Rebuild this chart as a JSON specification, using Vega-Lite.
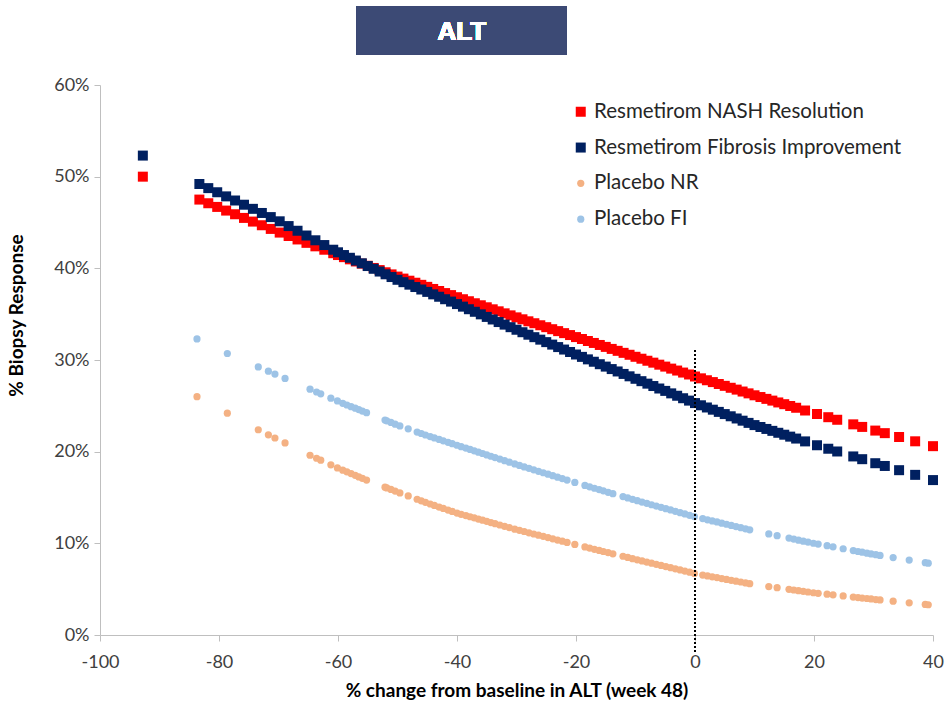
{
  "$schema": "https://vega.github.io/schema/vega-lite/v6.json",
  "width": 833,
  "height": 550,
  "autosize": {"type": "none"},
  "padding": {"left": 100, "top": 85, "right": 13, "bottom": 71},
  "background": "white",
  "config": {
    "view": {"stroke": null},
    "font": "Lato"
  },
  "data": {"values": [
    {"s":"Resmetirom NASH Resolution","x":-92.8,"y":50.0},
    {"s":"Resmetirom NASH Resolution","x":-83.3,"y":47.5},
    {"s":"Resmetirom NASH Resolution","x":-81.8,"y":47.10},
    {"s":"Resmetirom NASH Resolution","x":-80.3,"y":46.70},
    {"s":"Resmetirom NASH Resolution","x":-78.8,"y":46.30},
    {"s":"Resmetirom NASH Resolution","x":-77.3,"y":45.90},
    {"s":"Resmetirom NASH Resolution","x":-75.8,"y":45.50},
    {"s":"Resmetirom NASH Resolution","x":-74.3,"y":45.10},
    {"s":"Resmetirom NASH Resolution","x":-72.8,"y":44.70},
    {"s":"Resmetirom NASH Resolution","x":-71.3,"y":44.30},
    {"s":"Resmetirom NASH Resolution","x":-69.8,"y":43.90},
    {"s":"Resmetirom NASH Resolution","x":-68.3,"y":43.53},
    {"s":"Resmetirom NASH Resolution","x":-66.8,"y":43.15},
    {"s":"Resmetirom NASH Resolution","x":-65.3,"y":42.78},
    {"s":"Resmetirom NASH Resolution","x":-63.8,"y":42.40},
    {"s":"Resmetirom NASH Resolution","x":-62.3,"y":42.03},
    {"s":"Resmetirom NASH Resolution","x":-60.8,"y":41.65},
    {"s":"Resmetirom NASH Resolution","x":-60,"y":41.45},
    {"s":"Resmetirom NASH Resolution","x":-59,"y":41.22},
    {"s":"Resmetirom NASH Resolution","x":-58,"y":40.98},
    {"s":"Resmetirom NASH Resolution","x":-57,"y":40.75},
    {"s":"Resmetirom NASH Resolution","x":-56,"y":40.51},
    {"s":"Resmetirom NASH Resolution","x":-55,"y":40.28},
    {"s":"Resmetirom NASH Resolution","x":-54,"y":40.04},
    {"s":"Resmetirom NASH Resolution","x":-53,"y":39.81},
    {"s":"Resmetirom NASH Resolution","x":-52,"y":39.57},
    {"s":"Resmetirom NASH Resolution","x":-51,"y":39.34},
    {"s":"Resmetirom NASH Resolution","x":-50,"y":39.10},
    {"s":"Resmetirom NASH Resolution","x":-49,"y":38.88},
    {"s":"Resmetirom NASH Resolution","x":-48,"y":38.65},
    {"s":"Resmetirom NASH Resolution","x":-47,"y":38.43},
    {"s":"Resmetirom NASH Resolution","x":-46,"y":38.20},
    {"s":"Resmetirom NASH Resolution","x":-45,"y":37.98},
    {"s":"Resmetirom NASH Resolution","x":-44,"y":37.75},
    {"s":"Resmetirom NASH Resolution","x":-43,"y":37.53},
    {"s":"Resmetirom NASH Resolution","x":-42,"y":37.30},
    {"s":"Resmetirom NASH Resolution","x":-41,"y":37.08},
    {"s":"Resmetirom NASH Resolution","x":-40,"y":36.85},
    {"s":"Resmetirom NASH Resolution","x":-39,"y":36.63},
    {"s":"Resmetirom NASH Resolution","x":-38,"y":36.41},
    {"s":"Resmetirom NASH Resolution","x":-37,"y":36.19},
    {"s":"Resmetirom NASH Resolution","x":-36,"y":35.97},
    {"s":"Resmetirom NASH Resolution","x":-35,"y":35.75},
    {"s":"Resmetirom NASH Resolution","x":-34,"y":35.53},
    {"s":"Resmetirom NASH Resolution","x":-33,"y":35.31},
    {"s":"Resmetirom NASH Resolution","x":-32,"y":35.09},
    {"s":"Resmetirom NASH Resolution","x":-31,"y":34.87},
    {"s":"Resmetirom NASH Resolution","x":-30,"y":34.65},
    {"s":"Resmetirom NASH Resolution","x":-29,"y":34.44},
    {"s":"Resmetirom NASH Resolution","x":-28,"y":34.22},
    {"s":"Resmetirom NASH Resolution","x":-27,"y":34.01},
    {"s":"Resmetirom NASH Resolution","x":-26,"y":33.79},
    {"s":"Resmetirom NASH Resolution","x":-25,"y":33.58},
    {"s":"Resmetirom NASH Resolution","x":-24,"y":33.36},
    {"s":"Resmetirom NASH Resolution","x":-23,"y":33.15},
    {"s":"Resmetirom NASH Resolution","x":-22,"y":32.93},
    {"s":"Resmetirom NASH Resolution","x":-21,"y":32.72},
    {"s":"Resmetirom NASH Resolution","x":-20,"y":32.50},
    {"s":"Resmetirom NASH Resolution","x":-19,"y":32.29},
    {"s":"Resmetirom NASH Resolution","x":-18,"y":32.07},
    {"s":"Resmetirom NASH Resolution","x":-17,"y":31.86},
    {"s":"Resmetirom NASH Resolution","x":-16,"y":31.64},
    {"s":"Resmetirom NASH Resolution","x":-15,"y":31.43},
    {"s":"Resmetirom NASH Resolution","x":-14,"y":31.21},
    {"s":"Resmetirom NASH Resolution","x":-13,"y":31.00},
    {"s":"Resmetirom NASH Resolution","x":-12,"y":30.78},
    {"s":"Resmetirom NASH Resolution","x":-11,"y":30.57},
    {"s":"Resmetirom NASH Resolution","x":-10,"y":30.35},
    {"s":"Resmetirom NASH Resolution","x":-9,"y":30.14},
    {"s":"Resmetirom NASH Resolution","x":-8,"y":29.92},
    {"s":"Resmetirom NASH Resolution","x":-7,"y":29.71},
    {"s":"Resmetirom NASH Resolution","x":-6,"y":29.49},
    {"s":"Resmetirom NASH Resolution","x":-5,"y":29.28},
    {"s":"Resmetirom NASH Resolution","x":-4,"y":29.06},
    {"s":"Resmetirom NASH Resolution","x":-3,"y":28.85},
    {"s":"Resmetirom NASH Resolution","x":-2,"y":28.63},
    {"s":"Resmetirom NASH Resolution","x":-1,"y":28.42},
    {"s":"Resmetirom NASH Resolution","x":0,"y":28.20},
    {"s":"Resmetirom NASH Resolution","x":1,"y":28.00},
    {"s":"Resmetirom NASH Resolution","x":2,"y":27.79},
    {"s":"Resmetirom NASH Resolution","x":3,"y":27.59},
    {"s":"Resmetirom NASH Resolution","x":4,"y":27.38},
    {"s":"Resmetirom NASH Resolution","x":5,"y":27.18},
    {"s":"Resmetirom NASH Resolution","x":6,"y":26.97},
    {"s":"Resmetirom NASH Resolution","x":7,"y":26.77},
    {"s":"Resmetirom NASH Resolution","x":8,"y":26.56},
    {"s":"Resmetirom NASH Resolution","x":9,"y":26.36},
    {"s":"Resmetirom NASH Resolution","x":10,"y":26.15},
    {"s":"Resmetirom NASH Resolution","x":11,"y":25.96},
    {"s":"Resmetirom NASH Resolution","x":12,"y":25.76},
    {"s":"Resmetirom NASH Resolution","x":13,"y":25.57},
    {"s":"Resmetirom NASH Resolution","x":14,"y":25.37},
    {"s":"Resmetirom NASH Resolution","x":15,"y":25.18},
    {"s":"Resmetirom NASH Resolution","x":16,"y":24.98},
    {"s":"Resmetirom NASH Resolution","x":17,"y":24.79},
    {"s":"Resmetirom NASH Resolution","x":18.5,"y":24.49},
    {"s":"Resmetirom NASH Resolution","x":20.5,"y":24.11},
    {"s":"Resmetirom NASH Resolution","x":22.4,"y":23.76},
    {"s":"Resmetirom NASH Resolution","x":23.9,"y":23.48},
    {"s":"Resmetirom NASH Resolution","x":26.6,"y":22.98},
    {"s":"Resmetirom NASH Resolution","x":28.1,"y":22.70},
    {"s":"Resmetirom NASH Resolution","x":30.3,"y":22.30},
    {"s":"Resmetirom NASH Resolution","x":31.9,"y":22.02},
    {"s":"Resmetirom NASH Resolution","x":34.3,"y":21.60},
    {"s":"Resmetirom NASH Resolution","x":37.0,"y":21.13},
    {"s":"Resmetirom NASH Resolution","x":40.0,"y":20.60},

    {"s":"Resmetirom Fibrosis Improvement","x":-92.8,"y":52.3},
    {"s":"Resmetirom Fibrosis Improvement","x":-83.3,"y":49.2},
    {"s":"Resmetirom Fibrosis Improvement","x":-81.8,"y":48.75},
    {"s":"Resmetirom Fibrosis Improvement","x":-80.3,"y":48.30},
    {"s":"Resmetirom Fibrosis Improvement","x":-78.8,"y":47.85},
    {"s":"Resmetirom Fibrosis Improvement","x":-77.3,"y":47.40},
    {"s":"Resmetirom Fibrosis Improvement","x":-75.8,"y":46.94},
    {"s":"Resmetirom Fibrosis Improvement","x":-74.3,"y":46.49},
    {"s":"Resmetirom Fibrosis Improvement","x":-72.8,"y":46.04},
    {"s":"Resmetirom Fibrosis Improvement","x":-71.3,"y":45.59},
    {"s":"Resmetirom Fibrosis Improvement","x":-69.8,"y":45.13},
    {"s":"Resmetirom Fibrosis Improvement","x":-68.3,"y":44.61},
    {"s":"Resmetirom Fibrosis Improvement","x":-66.8,"y":44.10},
    {"s":"Resmetirom Fibrosis Improvement","x":-65.3,"y":43.58},
    {"s":"Resmetirom Fibrosis Improvement","x":-63.8,"y":43.06},
    {"s":"Resmetirom Fibrosis Improvement","x":-62.3,"y":42.54},
    {"s":"Resmetirom Fibrosis Improvement","x":-60.8,"y":42.03},
    {"s":"Resmetirom Fibrosis Improvement","x":-60,"y":41.75},
    {"s":"Resmetirom Fibrosis Improvement","x":-59,"y":41.45},
    {"s":"Resmetirom Fibrosis Improvement","x":-58,"y":41.15},
    {"s":"Resmetirom Fibrosis Improvement","x":-57,"y":40.85},
    {"s":"Resmetirom Fibrosis Improvement","x":-56,"y":40.55},
    {"s":"Resmetirom Fibrosis Improvement","x":-55,"y":40.25},
    {"s":"Resmetirom Fibrosis Improvement","x":-54,"y":39.95},
    {"s":"Resmetirom Fibrosis Improvement","x":-53,"y":39.65},
    {"s":"Resmetirom Fibrosis Improvement","x":-52,"y":39.35},
    {"s":"Resmetirom Fibrosis Improvement","x":-51,"y":39.05},
    {"s":"Resmetirom Fibrosis Improvement","x":-50,"y":38.75},
    {"s":"Resmetirom Fibrosis Improvement","x":-49,"y":38.49},
    {"s":"Resmetirom Fibrosis Improvement","x":-48,"y":38.22},
    {"s":"Resmetirom Fibrosis Improvement","x":-47,"y":37.96},
    {"s":"Resmetirom Fibrosis Improvement","x":-46,"y":37.69},
    {"s":"Resmetirom Fibrosis Improvement","x":-45,"y":37.43},
    {"s":"Resmetirom Fibrosis Improvement","x":-44,"y":37.16},
    {"s":"Resmetirom Fibrosis Improvement","x":-43,"y":36.90},
    {"s":"Resmetirom Fibrosis Improvement","x":-42,"y":36.63},
    {"s":"Resmetirom Fibrosis Improvement","x":-41,"y":36.37},
    {"s":"Resmetirom Fibrosis Improvement","x":-40,"y":36.10},
    {"s":"Resmetirom Fibrosis Improvement","x":-39,"y":35.82},
    {"s":"Resmetirom Fibrosis Improvement","x":-38,"y":35.54},
    {"s":"Resmetirom Fibrosis Improvement","x":-37,"y":35.26},
    {"s":"Resmetirom Fibrosis Improvement","x":-36,"y":34.98},
    {"s":"Resmetirom Fibrosis Improvement","x":-35,"y":34.70},
    {"s":"Resmetirom Fibrosis Improvement","x":-34,"y":34.42},
    {"s":"Resmetirom Fibrosis Improvement","x":-33,"y":34.14},
    {"s":"Resmetirom Fibrosis Improvement","x":-32,"y":33.86},
    {"s":"Resmetirom Fibrosis Improvement","x":-31,"y":33.58},
    {"s":"Resmetirom Fibrosis Improvement","x":-30,"y":33.30},
    {"s":"Resmetirom Fibrosis Improvement","x":-29,"y":33.03},
    {"s":"Resmetirom Fibrosis Improvement","x":-28,"y":32.76},
    {"s":"Resmetirom Fibrosis Improvement","x":-27,"y":32.49},
    {"s":"Resmetirom Fibrosis Improvement","x":-26,"y":32.22},
    {"s":"Resmetirom Fibrosis Improvement","x":-25,"y":31.95},
    {"s":"Resmetirom Fibrosis Improvement","x":-24,"y":31.68},
    {"s":"Resmetirom Fibrosis Improvement","x":-23,"y":31.41},
    {"s":"Resmetirom Fibrosis Improvement","x":-22,"y":31.14},
    {"s":"Resmetirom Fibrosis Improvement","x":-21,"y":30.87},
    {"s":"Resmetirom Fibrosis Improvement","x":-20,"y":30.60},
    {"s":"Resmetirom Fibrosis Improvement","x":-19,"y":30.34},
    {"s":"Resmetirom Fibrosis Improvement","x":-18,"y":30.07},
    {"s":"Resmetirom Fibrosis Improvement","x":-17,"y":29.81},
    {"s":"Resmetirom Fibrosis Improvement","x":-16,"y":29.54},
    {"s":"Resmetirom Fibrosis Improvement","x":-15,"y":29.28},
    {"s":"Resmetirom Fibrosis Improvement","x":-14,"y":29.01},
    {"s":"Resmetirom Fibrosis Improvement","x":-13,"y":28.75},
    {"s":"Resmetirom Fibrosis Improvement","x":-12,"y":28.48},
    {"s":"Resmetirom Fibrosis Improvement","x":-11,"y":28.22},
    {"s":"Resmetirom Fibrosis Improvement","x":-10,"y":27.95},
    {"s":"Resmetirom Fibrosis Improvement","x":-9,"y":27.69},
    {"s":"Resmetirom Fibrosis Improvement","x":-8,"y":27.42},
    {"s":"Resmetirom Fibrosis Improvement","x":-7,"y":27.16},
    {"s":"Resmetirom Fibrosis Improvement","x":-6,"y":26.89},
    {"s":"Resmetirom Fibrosis Improvement","x":-5,"y":26.63},
    {"s":"Resmetirom Fibrosis Improvement","x":-4,"y":26.36},
    {"s":"Resmetirom Fibrosis Improvement","x":-3,"y":26.10},
    {"s":"Resmetirom Fibrosis Improvement","x":-2,"y":25.83},
    {"s":"Resmetirom Fibrosis Improvement","x":-1,"y":25.57},
    {"s":"Resmetirom Fibrosis Improvement","x":0,"y":25.30},
    {"s":"Resmetirom Fibrosis Improvement","x":1,"y":25.06},
    {"s":"Resmetirom Fibrosis Improvement","x":2,"y":24.82},
    {"s":"Resmetirom Fibrosis Improvement","x":3,"y":24.58},
    {"s":"Resmetirom Fibrosis Improvement","x":4,"y":24.34},
    {"s":"Resmetirom Fibrosis Improvement","x":5,"y":24.10},
    {"s":"Resmetirom Fibrosis Improvement","x":6,"y":23.86},
    {"s":"Resmetirom Fibrosis Improvement","x":7,"y":23.62},
    {"s":"Resmetirom Fibrosis Improvement","x":8,"y":23.38},
    {"s":"Resmetirom Fibrosis Improvement","x":9,"y":23.14},
    {"s":"Resmetirom Fibrosis Improvement","x":10,"y":22.90},
    {"s":"Resmetirom Fibrosis Improvement","x":11,"y":22.69},
    {"s":"Resmetirom Fibrosis Improvement","x":12,"y":22.48},
    {"s":"Resmetirom Fibrosis Improvement","x":13,"y":22.27},
    {"s":"Resmetirom Fibrosis Improvement","x":14,"y":22.06},
    {"s":"Resmetirom Fibrosis Improvement","x":15,"y":21.85},
    {"s":"Resmetirom Fibrosis Improvement","x":16,"y":21.64},
    {"s":"Resmetirom Fibrosis Improvement","x":17,"y":21.43},
    {"s":"Resmetirom Fibrosis Improvement","x":18.5,"y":21.12},
    {"s":"Resmetirom Fibrosis Improvement","x":20.5,"y":20.70},
    {"s":"Resmetirom Fibrosis Improvement","x":22.4,"y":20.32},
    {"s":"Resmetirom Fibrosis Improvement","x":23.9,"y":20.02},
    {"s":"Resmetirom Fibrosis Improvement","x":26.6,"y":19.48},
    {"s":"Resmetirom Fibrosis Improvement","x":28.1,"y":19.18},
    {"s":"Resmetirom Fibrosis Improvement","x":30.3,"y":18.74},
    {"s":"Resmetirom Fibrosis Improvement","x":31.9,"y":18.44},
    {"s":"Resmetirom Fibrosis Improvement","x":34.3,"y":17.98},
    {"s":"Resmetirom Fibrosis Improvement","x":37.0,"y":17.47},
    {"s":"Resmetirom Fibrosis Improvement","x":40.0,"y":16.90},

    {"s":"Placebo NR","x":-83.7,"y":26.00},
    {"s":"Placebo NR","x":-78.6,"y":24.20},
    {"s":"Placebo NR","x":-73.4,"y":22.39},
    {"s":"Placebo NR","x":-71.7,"y":21.84},
    {"s":"Placebo NR","x":-70.6,"y":21.49},
    {"s":"Placebo NR","x":-68.9,"y":20.95},
    {"s":"Placebo NR","x":-64.7,"y":19.61},
    {"s":"Placebo NR","x":-63.6,"y":19.28},
    {"s":"Placebo NR","x":-62.9,"y":19.07},
    {"s":"Placebo NR","x":-61.2,"y":18.56},
    {"s":"Placebo NR","x":-60.1,"y":18.23},
    {"s":"Placebo NR","x":-59.2,"y":17.98},
    {"s":"Placebo NR","x":-58.5,"y":17.80},
    {"s":"Placebo NR","x":-57.8,"y":17.61},
    {"s":"Placebo NR","x":-57.1,"y":17.42},
    {"s":"Placebo NR","x":-56.5,"y":17.25},
    {"s":"Placebo NR","x":-55.9,"y":17.09},
    {"s":"Placebo NR","x":-55.2,"y":16.90},
    {"s":"Placebo NR","x":-52.1,"y":16.13},
    {"s":"Placebo NR","x":-51.8,"y":16.05},
    {"s":"Placebo NR","x":-51.1,"y":15.88},
    {"s":"Placebo NR","x":-50.4,"y":15.70},
    {"s":"Placebo NR","x":-49.6,"y":15.50},
    {"s":"Placebo NR","x":-48.2,"y":15.17},
    {"s":"Placebo NR","x":-46.7,"y":14.81},
    {"s":"Placebo NR","x":-46.0,"y":14.64},
    {"s":"Placebo NR","x":-45.3,"y":14.47},
    {"s":"Placebo NR","x":-44.5,"y":14.29},
    {"s":"Placebo NR","x":-43.8,"y":14.14},
    {"s":"Placebo NR","x":-43.0,"y":13.96},
    {"s":"Placebo NR","x":-42.3,"y":13.81},
    {"s":"Placebo NR","x":-41.5,"y":13.63},
    {"s":"Placebo NR","x":-40.8,"y":13.48},
    {"s":"Placebo NR","x":-40.0,"y":13.30},
    {"s":"Placebo NR","x":-39.3,"y":13.17},
    {"s":"Placebo NR","x":-38.5,"y":13.03},
    {"s":"Placebo NR","x":-37.8,"y":12.90},
    {"s":"Placebo NR","x":-37.1,"y":12.78},
    {"s":"Placebo NR","x":-36.4,"y":12.65},
    {"s":"Placebo NR","x":-35.7,"y":12.53},
    {"s":"Placebo NR","x":-35.0,"y":12.40},
    {"s":"Placebo NR","x":-34.3,"y":12.27},
    {"s":"Placebo NR","x":-33.6,"y":12.15},
    {"s":"Placebo NR","x":-32.8,"y":12.00},
    {"s":"Placebo NR","x":-32.0,"y":11.86},
    {"s":"Placebo NR","x":-31.2,"y":11.72},
    {"s":"Placebo NR","x":-30.3,"y":11.55},
    {"s":"Placebo NR","x":-29.5,"y":11.42},
    {"s":"Placebo NR","x":-28.7,"y":11.29},
    {"s":"Placebo NR","x":-27.9,"y":11.15},
    {"s":"Placebo NR","x":-27.1,"y":11.02},
    {"s":"Placebo NR","x":-26.3,"y":10.89},
    {"s":"Placebo NR","x":-25.5,"y":10.76},
    {"s":"Placebo NR","x":-24.7,"y":10.63},
    {"s":"Placebo NR","x":-23.9,"y":10.49},
    {"s":"Placebo NR","x":-23.1,"y":10.36},
    {"s":"Placebo NR","x":-22.3,"y":10.23},
    {"s":"Placebo NR","x":-21.5,"y":10.10},
    {"s":"Placebo NR","x":-20.2,"y":9.88},
    {"s":"Placebo NR","x":-18.5,"y":9.61},
    {"s":"Placebo NR","x":-17.7,"y":9.48},
    {"s":"Placebo NR","x":-16.9,"y":9.35},
    {"s":"Placebo NR","x":-16.1,"y":9.23},
    {"s":"Placebo NR","x":-15.4,"y":9.11},
    {"s":"Placebo NR","x":-14.6,"y":8.99},
    {"s":"Placebo NR","x":-13.8,"y":8.86},
    {"s":"Placebo NR","x":-12.1,"y":8.59},
    {"s":"Placebo NR","x":-11.3,"y":8.46},
    {"s":"Placebo NR","x":-10.5,"y":8.33},
    {"s":"Placebo NR","x":-9.7,"y":8.20},
    {"s":"Placebo NR","x":-8.9,"y":8.08},
    {"s":"Placebo NR","x":-8.1,"y":7.96},
    {"s":"Placebo NR","x":-7.3,"y":7.83},
    {"s":"Placebo NR","x":-6.5,"y":7.71},
    {"s":"Placebo NR","x":-5.7,"y":7.59},
    {"s":"Placebo NR","x":-4.9,"y":7.47},
    {"s":"Placebo NR","x":-4.1,"y":7.34},
    {"s":"Placebo NR","x":-3.3,"y":7.22},
    {"s":"Placebo NR","x":-2.5,"y":7.10},
    {"s":"Placebo NR","x":-1.7,"y":6.97},
    {"s":"Placebo NR","x":-0.9,"y":6.85},
    {"s":"Placebo NR","x":-0.1,"y":6.72},
    {"s":"Placebo NR","x":1.3,"y":6.54},
    {"s":"Placebo NR","x":2.1,"y":6.45},
    {"s":"Placebo NR","x":2.9,"y":6.35},
    {"s":"Placebo NR","x":3.7,"y":6.26},
    {"s":"Placebo NR","x":4.5,"y":6.16},
    {"s":"Placebo NR","x":5.3,"y":6.06},
    {"s":"Placebo NR","x":6.1,"y":5.97},
    {"s":"Placebo NR","x":6.9,"y":5.87},
    {"s":"Placebo NR","x":7.7,"y":5.78},
    {"s":"Placebo NR","x":8.5,"y":5.68},
    {"s":"Placebo NR","x":9.2,"y":5.60},
    {"s":"Placebo NR","x":12.4,"y":5.28},
    {"s":"Placebo NR","x":13.8,"y":5.16},
    {"s":"Placebo NR","x":15.8,"y":4.98},
    {"s":"Placebo NR","x":16.6,"y":4.91},
    {"s":"Placebo NR","x":17.4,"y":4.83},
    {"s":"Placebo NR","x":18.2,"y":4.76},
    {"s":"Placebo NR","x":19.0,"y":4.69},
    {"s":"Placebo NR","x":19.9,"y":4.61},
    {"s":"Placebo NR","x":20.7,"y":4.55},
    {"s":"Placebo NR","x":22.2,"y":4.45},
    {"s":"Placebo NR","x":23.2,"y":4.38},
    {"s":"Placebo NR","x":24.9,"y":4.26},
    {"s":"Placebo NR","x":26.6,"y":4.14},
    {"s":"Placebo NR","x":27.4,"y":4.08},
    {"s":"Placebo NR","x":28.1,"y":4.03},
    {"s":"Placebo NR","x":28.9,"y":3.98},
    {"s":"Placebo NR","x":29.6,"y":3.93},
    {"s":"Placebo NR","x":30.4,"y":3.87},
    {"s":"Placebo NR","x":31.1,"y":3.83},
    {"s":"Placebo NR","x":33.3,"y":3.69},
    {"s":"Placebo NR","x":36.0,"y":3.51},
    {"s":"Placebo NR","x":38.7,"y":3.34},
    {"s":"Placebo NR","x":39.2,"y":3.30},

    {"s":"Placebo FI","x":-83.7,"y":32.30},
    {"s":"Placebo FI","x":-78.6,"y":30.71},
    {"s":"Placebo FI","x":-73.4,"y":29.25},
    {"s":"Placebo FI","x":-71.7,"y":28.78},
    {"s":"Placebo FI","x":-70.6,"y":28.47},
    {"s":"Placebo FI","x":-68.9,"y":27.99},
    {"s":"Placebo FI","x":-64.7,"y":26.82},
    {"s":"Placebo FI","x":-63.6,"y":26.51},
    {"s":"Placebo FI","x":-62.9,"y":26.31},
    {"s":"Placebo FI","x":-61.2,"y":25.84},
    {"s":"Placebo FI","x":-60.1,"y":25.53},
    {"s":"Placebo FI","x":-59.2,"y":25.27},
    {"s":"Placebo FI","x":-58.5,"y":25.09},
    {"s":"Placebo FI","x":-57.8,"y":24.91},
    {"s":"Placebo FI","x":-57.1,"y":24.75},
    {"s":"Placebo FI","x":-56.5,"y":24.59},
    {"s":"Placebo FI","x":-55.9,"y":24.43},
    {"s":"Placebo FI","x":-55.2,"y":24.25},
    {"s":"Placebo FI","x":-52.1,"y":23.45},
    {"s":"Placebo FI","x":-51.8,"y":23.37},
    {"s":"Placebo FI","x":-51.1,"y":23.19},
    {"s":"Placebo FI","x":-50.4,"y":23.00},
    {"s":"Placebo FI","x":-49.6,"y":22.81},
    {"s":"Placebo FI","x":-48.2,"y":22.49},
    {"s":"Placebo FI","x":-46.7,"y":22.14},
    {"s":"Placebo FI","x":-46.0,"y":21.98},
    {"s":"Placebo FI","x":-45.3,"y":21.82},
    {"s":"Placebo FI","x":-44.5,"y":21.65},
    {"s":"Placebo FI","x":-43.8,"y":21.50},
    {"s":"Placebo FI","x":-43.0,"y":21.33},
    {"s":"Placebo FI","x":-42.3,"y":21.18},
    {"s":"Placebo FI","x":-41.5,"y":21.02},
    {"s":"Placebo FI","x":-40.8,"y":20.87},
    {"s":"Placebo FI","x":-40.0,"y":20.70},
    {"s":"Placebo FI","x":-39.3,"y":20.55},
    {"s":"Placebo FI","x":-38.5,"y":20.39},
    {"s":"Placebo FI","x":-37.8,"y":20.24},
    {"s":"Placebo FI","x":-37.1,"y":20.09},
    {"s":"Placebo FI","x":-36.4,"y":19.94},
    {"s":"Placebo FI","x":-35.7,"y":19.80},
    {"s":"Placebo FI","x":-35.0,"y":19.65},
    {"s":"Placebo FI","x":-34.3,"y":19.50},
    {"s":"Placebo FI","x":-33.6,"y":19.36},
    {"s":"Placebo FI","x":-32.8,"y":19.19},
    {"s":"Placebo FI","x":-32.0,"y":19.02},
    {"s":"Placebo FI","x":-31.2,"y":18.85},
    {"s":"Placebo FI","x":-30.3,"y":18.66},
    {"s":"Placebo FI","x":-29.5,"y":18.50},
    {"s":"Placebo FI","x":-28.7,"y":18.34},
    {"s":"Placebo FI","x":-27.9,"y":18.18},
    {"s":"Placebo FI","x":-27.1,"y":18.02},
    {"s":"Placebo FI","x":-26.3,"y":17.86},
    {"s":"Placebo FI","x":-25.5,"y":17.70},
    {"s":"Placebo FI","x":-24.7,"y":17.54},
    {"s":"Placebo FI","x":-23.9,"y":17.38},
    {"s":"Placebo FI","x":-23.1,"y":17.22},
    {"s":"Placebo FI","x":-22.3,"y":17.06},
    {"s":"Placebo FI","x":-21.5,"y":16.90},
    {"s":"Placebo FI","x":-20.2,"y":16.64},
    {"s":"Placebo FI","x":-18.5,"y":16.32},
    {"s":"Placebo FI","x":-17.7,"y":16.16},
    {"s":"Placebo FI","x":-16.9,"y":16.01},
    {"s":"Placebo FI","x":-16.1,"y":15.86},
    {"s":"Placebo FI","x":-15.4,"y":15.73},
    {"s":"Placebo FI","x":-14.6,"y":15.57},
    {"s":"Placebo FI","x":-13.8,"y":15.42},
    {"s":"Placebo FI","x":-12.1,"y":15.10},
    {"s":"Placebo FI","x":-11.3,"y":14.95},
    {"s":"Placebo FI","x":-10.5,"y":14.80},
    {"s":"Placebo FI","x":-9.7,"y":14.65},
    {"s":"Placebo FI","x":-8.9,"y":14.50},
    {"s":"Placebo FI","x":-8.1,"y":14.36},
    {"s":"Placebo FI","x":-7.3,"y":14.21},
    {"s":"Placebo FI","x":-6.5,"y":14.07},
    {"s":"Placebo FI","x":-5.7,"y":13.93},
    {"s":"Placebo FI","x":-4.9,"y":13.78},
    {"s":"Placebo FI","x":-4.1,"y":13.64},
    {"s":"Placebo FI","x":-3.3,"y":13.49},
    {"s":"Placebo FI","x":-2.5,"y":13.35},
    {"s":"Placebo FI","x":-1.7,"y":13.21},
    {"s":"Placebo FI","x":-0.9,"y":13.06},
    {"s":"Placebo FI","x":-0.1,"y":12.92},
    {"s":"Placebo FI","x":1.3,"y":12.70},
    {"s":"Placebo FI","x":2.1,"y":12.57},
    {"s":"Placebo FI","x":2.9,"y":12.45},
    {"s":"Placebo FI","x":3.7,"y":12.33},
    {"s":"Placebo FI","x":4.5,"y":12.20},
    {"s":"Placebo FI","x":5.3,"y":12.08},
    {"s":"Placebo FI","x":6.1,"y":11.95},
    {"s":"Placebo FI","x":6.9,"y":11.83},
    {"s":"Placebo FI","x":7.7,"y":11.71},
    {"s":"Placebo FI","x":8.5,"y":11.58},
    {"s":"Placebo FI","x":9.2,"y":11.47},
    {"s":"Placebo FI","x":12.4,"y":11.03},
    {"s":"Placebo FI","x":13.8,"y":10.84},
    {"s":"Placebo FI","x":15.8,"y":10.57},
    {"s":"Placebo FI","x":16.6,"y":10.46},
    {"s":"Placebo FI","x":17.4,"y":10.35},
    {"s":"Placebo FI","x":18.2,"y":10.24},
    {"s":"Placebo FI","x":19.0,"y":10.14},
    {"s":"Placebo FI","x":19.9,"y":10.01},
    {"s":"Placebo FI","x":20.7,"y":9.92},
    {"s":"Placebo FI","x":22.2,"y":9.74},
    {"s":"Placebo FI","x":23.2,"y":9.62},
    {"s":"Placebo FI","x":24.9,"y":9.41},
    {"s":"Placebo FI","x":26.6,"y":9.21},
    {"s":"Placebo FI","x":27.4,"y":9.11},
    {"s":"Placebo FI","x":28.1,"y":9.03},
    {"s":"Placebo FI","x":28.9,"y":8.93},
    {"s":"Placebo FI","x":29.6,"y":8.85},
    {"s":"Placebo FI","x":30.4,"y":8.76},
    {"s":"Placebo FI","x":31.1,"y":8.68},
    {"s":"Placebo FI","x":33.3,"y":8.45},
    {"s":"Placebo FI","x":36.0,"y":8.17},
    {"s":"Placebo FI","x":38.7,"y":7.89},
    {"s":"Placebo FI","x":39.2,"y":7.83}
  ]},
  "layer": [
    {
      "mark": {"type": "point", "filled": true, "opacity": 1, "strokeWidth": 0},
      "encoding": {
        "x": {
          "field": "x", "type": "quantitative",
          "scale": {"domain": [-100, 40], "nice": false, "zero": false},
          "axis": {
            "values": [-100, -80, -60, -40, -20, 0, 20, 40],
            "labelExpr": "'' + datum.value",
            "labelFlush": false,
            "title": "% change from baseline in ALT (week 48)",
            "titleFont": "Lato", "titleFontSize": 19, "titleFontWeight": "bold", "titleColor": "#000000",
            "titlePadding": 10,
            "labelFont": "Lato", "labelFontSize": 18, "labelColor": "#404040", "labelPadding": 12,
            "tickSize": 6, "tickColor": "#BFBFBF", "domainColor": "#BFBFBF", "grid": false
          }
        },
        "y": {
          "field": "y", "type": "quantitative",
          "scale": {"domain": [0, 60], "nice": false},
          "axis": {
            "values": [0, 10, 20, 30, 40, 50, 60],
            "labelExpr": "datum.value + '%'",
            "labelFlush": false,
            "title": "% Biopsy Response",
            "titleFont": "Lato", "titleFontSize": 19, "titleFontWeight": "bold", "titleColor": "#000000",
            "titleX": -74, "titleY": 230,
            "labelFont": "Lato", "labelFontSize": 18, "labelColor": "#404040", "labelPadding": 5,
            "tickSize": 6, "tickColor": "#BFBFBF", "domainColor": "#BFBFBF", "grid": false
          }
        },
        "color": {
          "field": "s", "type": "nominal",
          "scale": {
            "domain": ["Resmetirom NASH Resolution", "Resmetirom Fibrosis Improvement", "Placebo NR", "Placebo FI"],
            "range": ["#FF0000", "#002060", "#F4B183", "#9DC3E6"]
          },
          "legend": {
            "title": null, "orient": "none", "legendX": 470.5, "legendY": 16.5,
            "labelFont": "Lato", "labelFontSize": 20.5, "labelColor": "#262626", "labelLimit": 0,
            "labelOffset": 3, "rowPadding": 14.8, "padding": 0, "symbolStrokeWidth": 0
          }
        },
        "shape": {
          "field": "s", "type": "nominal",
          "scale": {
            "domain": ["Resmetirom NASH Resolution", "Resmetirom Fibrosis Improvement", "Placebo NR", "Placebo FI"],
            "range": ["square", "square", "circle", "circle"]
          }
        },
        "size": {
          "field": "s", "type": "nominal",
          "scale": {
            "type": "ordinal",
            "domain": ["Resmetirom NASH Resolution", "Resmetirom Fibrosis Improvement", "Placebo NR", "Placebo FI"],
            "range": [100, 100, 52, 52]
          }
        }
      }
    },
    {
      "mark": {"type": "rule", "color": "#000000", "strokeWidth": 2, "strokeDash": [2, 2]},
      "encoding": {
        "x": {"datum": 0, "type": "quantitative"},
        "y": {"datum": -1.85, "type": "quantitative"},
        "y2": {"datum": 31.3}
      }
    },
    {
      "mark": {"type": "rect", "color": "#3C4A75"},
      "encoding": {
        "x": {"datum": -56.86, "type": "quantitative"},
        "x2": {"datum": -21.56},
        "y": {"datum": 68.54, "type": "quantitative"},
        "y2": {"datum": 63.35}
      }
    },
    {
      "mark": {"type": "text", "text": "ALT", "color": "#FFFFFF", "font": "Liberation Sans", "fontSize": 26, "fontWeight": "bold", "align": "center", "baseline": "middle"},
      "encoding": {
        "x": {"datum": -39.2, "type": "quantitative"},
        "y": {"datum": 65.8, "type": "quantitative"}
      }
    }
  ]
}
